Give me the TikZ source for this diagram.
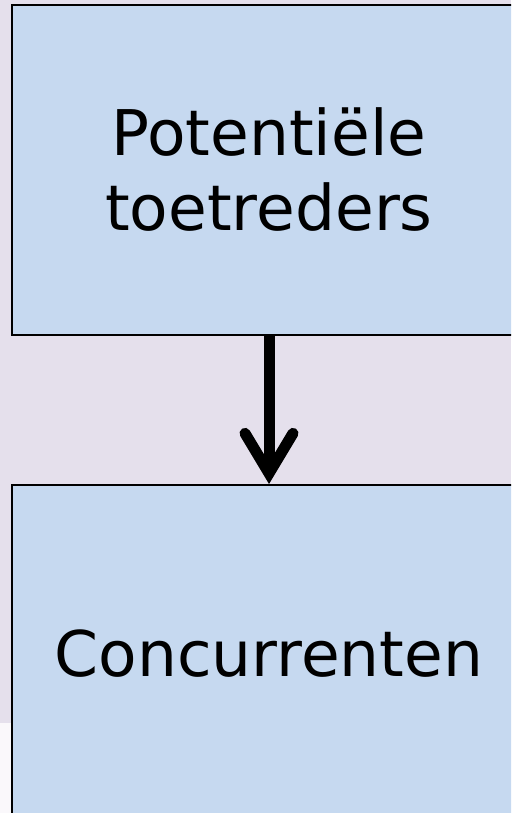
\documentclass[tikz,border=0pt]{standalone}
\usepackage{fontspec}
\usepackage{xcolor}
\usepackage{tikz}
\usetikzlibrary{arrows.meta}
\setmainfont{DejaVu Sans}

\definecolor{slidebg}{HTML}{E5E0EC}
\definecolor{boxfill}{HTML}{C6D9F0}
\definecolor{paper}{HTML}{FAF8FB}

\begin{document}
\begin{tikzpicture}[x=1pt,y=-1pt,
  box/.style={draw=black, line width=2pt, fill=boxfill, minimum width=514pt,
    align=center, inner sep=0pt, font=\fontsize{63}{75}\selectfont},
  link/.style={line width=11pt, -{Straight Barb[length=40pt, width=48pt, line cap=round, line join=miter]}}]
\clip (0,0) rectangle (511,813);
\fill[slidebg] (0,0) rectangle (511,813);
\fill[paper] (0,723) rectangle (12,813);

\node[box, minimum height=330pt] (pot) at (269,170) {Potentiële\\toetreders};
\node[box, minimum height=337pt] (conc) at (269,653.5) {Concurrenten};

\draw[link] (pot.south) -- (conc.north);
\end{tikzpicture}
\end{document}
